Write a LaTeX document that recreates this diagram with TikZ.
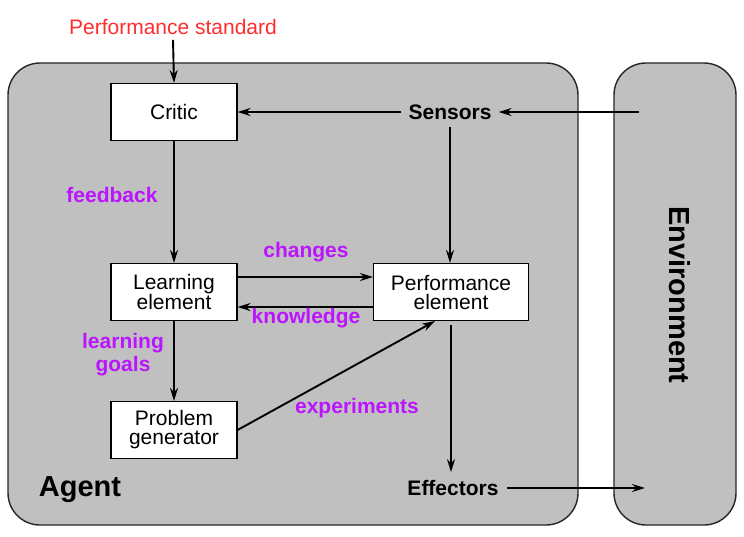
\documentclass[tikz,border=0pt]{standalone}
\usepackage{fontspec}
\setmainfont{Liberation Sans}
\usetikzlibrary{arrows.meta,calc}
\definecolor{agentgray}{RGB}{192,192,192}
\definecolor{lblmag}{RGB}{187,20,255}
\definecolor{stdred}{RGB}{255,45,45}
\tikzset{
  container/.style={draw=black!85, line width=1.4pt, fill=agentgray, rounded corners=32pt},
  unitbox/.style={draw=black, line width=1.1pt, fill=white, minimum width=126pt, minimum height=57pt, align=center, inner sep=0pt, font=\fontsize{21}{19}\selectfont},
  portlbl/.style={font=\fontsize{21}{21}\selectfont\bfseries, inner sep=6pt},
  flowlbl/.style={font=\fontsize{21}{21}\selectfont\bfseries, text=lblmag, align=center},
  bigtitle/.style={font=\fontsize{29}{29}\selectfont\bfseries},
  flow/.style={line width=1.9pt, -{Stealth[length=13pt,width=8pt]}}
}
\begin{document}
\begin{tikzpicture}[x=1pt,y=-1pt]
\useasboundingbox (0,0) rectangle (744,536);
% containers
\draw[container] (8,63) rectangle (578,525);
\draw[container] (614,63) rectangle (736,525);
% titles
\node[bigtitle] (agent) at (80,490) {Agent};
\node[bigtitle, rotate=-90] (env) at (680,295) {Environment};
% boxes
\node[unitbox] (critic) at (174,112) {Critic};
\node[unitbox] (learn) at (174,292) {Learning\\element};
\node[unitbox] (prob) at (174,430) {Problem\\generator};
\node[unitbox, minimum width=155pt] (perf) at (451,292) {Performance\\element};
% ports
\node[portlbl, inner sep=7pt] (sensors) at (450,112) {Sensors};
\node[portlbl, inner sep=8pt] (effectors) at (453,488) {Effectors};
\node[font=\fontsize{21}{21}\selectfont, text=stdred, inner sep=5pt] (std) at (173,27) {Performance standard};
\coordinate (envin) at (639,112);
\coordinate (envout) at (645,488);
% connectors
\draw[flow] (std.south) -- (critic.north);
\draw[flow] (envin) -- (sensors.east);
\draw[flow] (sensors.west) -- (critic.east);
\draw[flow] (sensors.south) -- (sensors.south |- perf.north);
\draw[flow] (critic.south) -- (learn.north);
\draw[flow] (learn.south) -- (prob.north);
\draw[flow] ([yshift=15pt]learn.east) -- ([yshift=15pt]perf.west);
\draw[flow] ([yshift=-15pt]perf.west) -- ([yshift=-15pt]learn.east);
\draw[flow] (prob.east) -- ($(perf.south)+(-16,0)$);
\draw[flow, shorten <=4pt] (perf.south) -- (perf.south |- effectors.north);
\draw[flow] (effectors.east) -- (envout);
% labels
\node[flowlbl] (fb) at (112,195) {feedback};
\node[flowlbl] (ch) at (306,252) {changes};
\node[flowlbl] (kn) at (306,318) {knowledge};
\node[flowlbl, font=\fontsize{21}{23}\selectfont\bfseries] (lg) at (123,355) {learning\\goals};
\node[flowlbl] (ex) at (357,408) {experiments};
\end{tikzpicture}
\end{document}
